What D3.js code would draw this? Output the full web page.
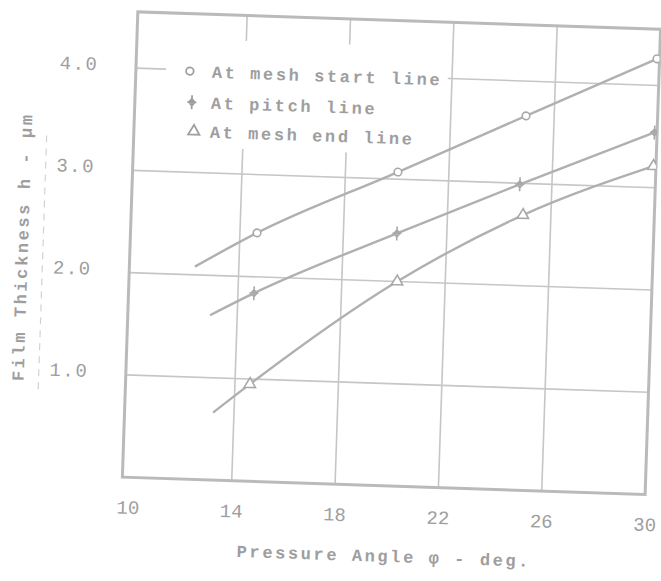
<!DOCTYPE html>
<html><head><meta charset="utf-8">
<script src="https://cdn.jsdelivr.net/npm/d3@7"></script>
<style>body{margin:0;background:#fff}</style>
</head><body>
<svg id="c" width="661" height="581"></svg>
<script>
// ---- data ----
const xTicks = [10, 14, 18, 22, 26, 30];
const yTicks = [1.0, 2.0, 3.0, 4.0];
const xGrid = [14, 18, 22, 26];
const legendLabels = ["At mesh start line", "At pitch line", "At mesh end line"];
const meshStartX = [12.3, 14.66, 20.03, 24.91, 29.9];
const meshStartY = [2.08, 2.43, 3.07, 3.66, 4.26];
const pitchX = [12.95, 14.62, 20.07, 24.76, 29.9];
const pitchY = [1.61, 1.84, 2.47, 2.99, 3.54];
const meshEndX = [13.19, 14.58, 20.14, 24.92, 29.9];
const meshEndY = [0.66, 0.95, 2.0, 2.69, 3.21];
const xTitle = "Pressure Angle \u03c6 - deg.";
const yTitle = "Film Thickness  h - \u03bcm";

// ---- drawing ----
(function () {
const svg = d3.select("#c");
const x = d3.scaleLinear().domain([10, 30]).range([136, 653]);
const y = d3.scaleLinear().domain([0, 4.55]).range([486, 20.5]);
const ink = "#9e9e9e", gridC = "#c6c6c6", lineC = "#b0b0b0";
const mono = "'Liberation Mono','DejaVu Sans Mono',monospace";
const pLeft = x(10) - 6, pRight = x(30), pTop = y(4.55), pBottom = y(0);

svg.append("defs").append("clipPath").attr("id", "pc").append("rect")
  .attr("x", pLeft).attr("y", pTop).attr("width", pRight - pLeft).attr("height", pBottom - pTop);

const g = svg.append("g").attr("transform", "rotate(1.9,393,252)");

// stray guide line from the scan (dashed)
g.append("line").attr("x1", 43).attr("x2", 43).attr("y1", 147).attr("y2", 407)
  .attr("stroke", "#d2d2d2").attr("stroke-width", 1.2).attr("stroke-dasharray", "7,6");

// gridlines
g.selectAll(".vg").data(xGrid).join("line").attr("class", "vg")
  .attr("x1", d => x(d)).attr("x2", d => x(d)).attr("y1", pTop).attr("y2", pBottom)
  .attr("stroke", gridC).attr("stroke-width", 1.6);
g.selectAll(".hg").data(yTicks).join("line").attr("class", "hg")
  .attr("x1", pLeft).attr("x2", pRight).attr("y1", d => y(d)).attr("y2", d => y(d))
  .attr("stroke", gridC).attr("stroke-width", 1.6);

// legend background (blank area in the original)
g.append("rect").attr("x", 160).attr("y", 46).attr("width", 282).attr("height", 108).attr("fill", "#fff");

// frame
g.append("rect").attr("x", pLeft).attr("y", pTop).attr("width", pRight - pLeft).attr("height", pBottom - pTop)
  .attr("fill", "none").attr("stroke", "#bababa").attr("stroke-width", 3);

// series
const crossPath = "M0,-7V7M-4.5,0H4.5M0,-3.5L3,0L0,3.5L-3,0Z";
const triPath = d3.symbol(d3.symbolTriangle, 55)();
const circPath = d3.symbol(d3.symbolCircle, 45)();
const series = [
  { xs: meshStartX, ys: meshStartY, sym: circPath },
  { xs: pitchX, ys: pitchY, sym: crossPath },
  { xs: meshEndX, ys: meshEndY, sym: triPath }
];
const line = d3.line().x(d => x(d[0])).y(d => y(d[1])).curve(d3.curveMonotoneX);
const pg = g.append("g").attr("clip-path", "url(#pc)");
series.forEach(s => {
  const pts = s.xs.map((v, i) => [v, s.ys[i]]);
  pg.append("path").datum(pts).attr("d", line)
    .attr("fill", "none").attr("stroke", lineC).attr("stroke-width", 2.4);
  pg.selectAll(null).data(pts.slice(1)).join("path")
    .attr("transform", d => `translate(${x(d[0])},${y(d[1])})`)
    .attr("d", s.sym).attr("fill", "#fff").attr("stroke", "#a8a8a8").attr("stroke-width", 1.6);
});

// legend
const lg = g.append("g");
legendLabels.forEach((t, i) => {
  const ly = [78, 109, 138][i];
  lg.append("path").attr("transform", `translate(${184 + i * 3},${ly})`)
    .attr("d", series[i].sym).attr("fill", "none").attr("stroke", ink).attr("stroke-width", 1.8);
  lg.append("text").attr("x", 206).attr("y", ly).attr("dy", "0.35em")
    .attr("fill", ink).attr("font-family", mono).attr("font-size", 17).attr("font-weight", "bold")
    .attr("letter-spacing", 2.6).text(t);
});

// axes (labels only)
const xa = g.append("g").attr("transform", `translate(0,${pBottom})`)
  .call(d3.axisBottom(x).tickValues(xTicks).tickSize(0).tickPadding(23).tickFormat(d3.format("d")));
xa.select(".domain").remove();
xa.attr("font-family", mono).attr("font-size", 19);
xa.selectAll("text").attr("fill", ink).attr("letter-spacing", 0);

const ya = g.append("g").attr("transform", `translate(${x(10)},0)`)
  .call(d3.axisLeft(y).tickValues(yTicks).tickSize(0).tickFormat(d3.format(".1f")));
ya.select(".domain").remove();
ya.attr("font-family", mono).attr("font-size", 19);
ya.selectAll("text").attr("fill", ink).attr("letter-spacing", 1.5)
  .attr("x", -63).attr("text-anchor", "middle").attr("dy", "0.15em");

// titles
g.append("text").attr("x", 394).attr("y", 556).attr("dy", "0.35em").attr("text-anchor", "middle")
  .attr("fill", ink).attr("font-family", mono).attr("font-size", 17).attr("font-weight", "bold")
  .attr("letter-spacing", 2.6).text(xTitle);
g.append("text").attr("transform", "translate(22,259) rotate(-90)").attr("dy", "0.35em")
  .attr("text-anchor", "middle").attr("fill", ink).attr("font-family", mono).attr("font-size", 17)
  .attr("font-weight", "bold").attr("letter-spacing", 2.6).text(yTitle);
})();
</script>
</body></html>
